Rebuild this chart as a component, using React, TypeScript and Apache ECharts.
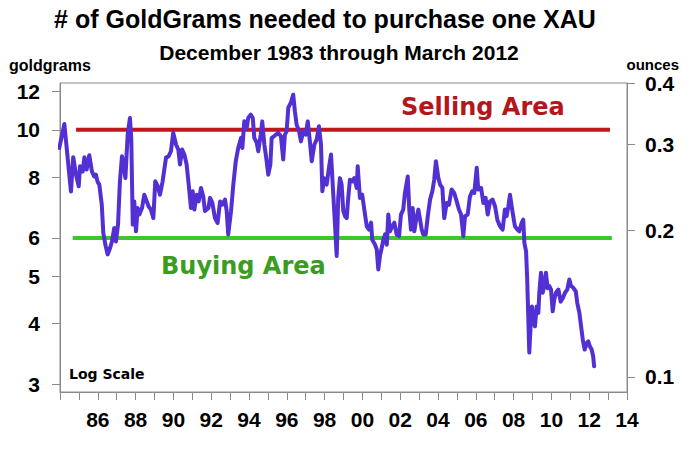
import React, { useEffect, useRef } from "react";
import * as echarts from "echarts";

// ---- text ----
const TITLE = "# of GoldGrams needed to purchase one XAU";
const SUBTITLE = "December 1983 through March 2012";
const LEFT_UNIT = "goldgrams";
const RIGHT_UNIT = "ounces";
const SELL_LABEL = "Selling Area";
const BUY_LABEL = "Buying Area";
const SCALE_NOTE = "Log Scale";

// ---- axes ----
const yearMin = 1984;
const yearMax = 2014;
const gramTicks = [3, 4, 5, 6, 8, 10, 12];
const ounceTicks = [0.1, 0.2, 0.3, 0.4];
const gramMin = 2.896;
const gramMax = 12.48;
const gramsPerOunce = 31.1035;

// ---- reference levels ----
const sellingLevel = 10;
const sellingSpan = [1984.85, 2013.1];
const buyingLevel = 6;
const buyingSpan = [1984.67, 2013.2];

// ---- goldgrams per XAU, [decimal year, goldgrams] ----
const data1980s: [number, number][] = [
  [1983.96, 9.18], [1984.23, 10.28], [1984.58, 7.47], [1984.7, 8.79], [1984.85, 8.09], [1984.99, 7.66],
  [1985.06, 8.42], [1985.2, 8.21], [1985.29, 8.79], [1985.41, 8.29], [1985.55, 8.87], [1985.69, 8.21],
  [1985.81, 8.02], [1985.9, 8.09], [1985.99, 7.82], [1986.08, 7.72], [1986.21, 7.02], [1986.29, 6.15],
  [1986.4, 5.81], [1986.52, 5.55], [1986.65, 5.72], [1986.75, 5.9], [1986.87, 6.29], [1986.96, 5.9],
  [1987.07, 6.39], [1987.17, 7.84], [1987.28, 8.83], [1987.37, 8.49], [1987.46, 7.96], [1987.58, 9.78],
  [1987.7, 10.58], [1987.77, 9.63], [1987.85, 6.39], [1987.93, 7.13], [1988.02, 6.19], [1988.11, 6.91],
  [1988.2, 6.7], [1988.34, 6.91], [1988.46, 7.36], [1988.59, 7.13], [1988.69, 6.96], [1988.81, 6.86],
  [1988.94, 6.59], [1989.04, 7.84], [1989.17, 7.66], [1989.29, 7.36], [1989.43, 7.84], [1989.61, 8.77],
  [1989.75, 8.83], [1989.87, 9.04], [1989.99, 9.86],
];
const data1990s: [number, number][] = [
  [1990.14, 9.33], [1990.26, 9.11], [1990.35, 8.49], [1990.46, 9.11], [1990.58, 8.9], [1990.7, 8.49],
  [1990.81, 7.72], [1990.93, 6.91], [1991.02, 7.48], [1991.11, 6.86], [1991.23, 7.36], [1991.34, 7.13],
  [1991.46, 7.6], [1991.58, 7.3], [1991.67, 6.81], [1991.85, 6.91], [1991.94, 7.25], [1992.06, 7.08],
  [1992.2, 6.59], [1992.34, 6.44], [1992.47, 7.13], [1992.59, 7.02], [1992.73, 7.19], [1992.82, 6.81],
  [1992.9, 6.1], [1993.05, 6.81], [1993.17, 7.72], [1993.3, 8.62], [1993.43, 9.18], [1993.58, 9.63],
  [1993.65, 9.18], [1993.75, 10.41], [1993.88, 10.09], [1993.96, 10.58], [1994.09, 10.75], [1994.2, 10.58],
  [1994.28, 9.63], [1994.41, 9.4], [1994.49, 9.04], [1994.62, 9.78], [1994.7, 10.41], [1994.81, 9.33],
  [1994.9, 8.83], [1995.02, 8.09], [1995.13, 8.49], [1995.2, 9.63], [1995.32, 9.7], [1995.43, 9.78],
  [1995.55, 9.86], [1995.69, 9.7], [1995.81, 8.69], [1995.9, 9.78], [1995.99, 9.93], [1996.08, 11.11],
  [1996.22, 11.38], [1996.34, 11.81], [1996.43, 10.91], [1996.52, 10.25], [1996.65, 9.93], [1996.75, 9.47],
  [1996.87, 9.93], [1997.0, 9.78], [1997.11, 10.41], [1997.23, 9.4], [1997.32, 8.62], [1997.46, 9.33],
  [1997.58, 9.55], [1997.7, 10.17], [1997.81, 9.33], [1997.88, 7.48], [1997.98, 7.96], [1998.11, 7.72],
  [1998.23, 8.36], [1998.34, 8.9], [1998.46, 7.36], [1998.55, 6.39], [1998.64, 5.51], [1998.72, 7.25],
  [1998.81, 7.96], [1998.9, 7.72], [1998.99, 6.81], [1999.08, 6.65], [1999.17, 6.59], [1999.25, 7.25],
  [1999.34, 7.9], [1999.47, 7.84], [1999.57, 7.96], [1999.7, 7.6], [1999.75, 8.42], [1999.87, 7.25],
  [1999.99, 7.36],
];
const data2000s: [number, number][] = [
  [2000.1, 6.86], [2000.23, 6.34], [2000.35, 6.24], [2000.46, 6.45], [2000.52, 5.95], [2000.67, 5.81],
  [2000.76, 5.68], [2000.84, 5.17], [2000.93, 5.51], [2001.02, 5.72], [2001.11, 5.95], [2001.2, 6.1],
  [2001.29, 5.81], [2001.37, 6.7], [2001.46, 6.19], [2001.58, 6.34], [2001.69, 6.45], [2001.81, 6.1],
  [2001.94, 6.05], [2002.04, 6.7], [2002.16, 6.86], [2002.25, 7.42], [2002.4, 8.02], [2002.48, 6.86],
  [2002.57, 6.24], [2002.66, 6.91], [2002.75, 6.19], [2002.84, 6.54], [2002.96, 6.86], [2003.05, 6.54],
  [2003.14, 6.24], [2003.22, 6.1], [2003.35, 6.1], [2003.46, 6.65], [2003.58, 7.19], [2003.7, 7.48],
  [2003.8, 7.9], [2003.89, 8.62], [2004.02, 7.96], [2004.11, 7.72], [2004.23, 7.6], [2004.33, 6.59],
  [2004.46, 7.08], [2004.58, 7.02], [2004.72, 7.54], [2004.86, 7.42], [2004.99, 7.13], [2005.11, 6.86],
  [2005.22, 6.7], [2005.34, 6.05], [2005.43, 6.65], [2005.57, 6.7], [2005.69, 7.3], [2005.81, 7.48],
  [2005.92, 7.42], [2006.05, 8.36], [2006.13, 7.54], [2006.28, 7.6], [2006.4, 7.08], [2006.52, 7.25],
  [2006.63, 6.7], [2006.75, 7.13], [2006.89, 7.19], [2007.02, 6.96], [2007.14, 6.54], [2007.28, 6.34],
  [2007.42, 6.24], [2007.54, 6.86], [2007.63, 6.65], [2007.72, 6.96], [2007.81, 7.36], [2007.9, 6.96],
  [2007.98, 6.65], [2008.07, 6.34], [2008.2, 6.24], [2008.3, 6.19], [2008.43, 6.45], [2008.51, 6.54],
  [2008.57, 5.86], [2008.66, 5.63], [2008.72, 4.93], [2008.78, 4.08], [2008.83, 3.49], [2008.9, 3.95],
  [2008.97, 4.34], [2009.04, 4.08], [2009.13, 3.95], [2009.22, 4.34], [2009.31, 4.21], [2009.36, 4.63],
  [2009.45, 5.09], [2009.54, 4.63], [2009.62, 4.78], [2009.71, 5.09], [2009.8, 4.73], [2009.89, 4.78],
  [2009.98, 4.7],
];
const data2010s: [number, number][] = [
  [2010.07, 4.24], [2010.15, 4.48], [2010.24, 4.63], [2010.37, 4.7], [2010.49, 4.44], [2010.6, 4.51],
  [2010.72, 4.63], [2010.84, 4.7], [2010.95, 4.93], [2011.04, 4.78], [2011.16, 4.74], [2011.29, 4.66],
  [2011.37, 4.41], [2011.48, 4.21], [2011.57, 3.95], [2011.66, 3.71], [2011.76, 3.54], [2011.87, 3.65],
  [2011.95, 3.68], [2012.04, 3.59], [2012.13, 3.54], [2012.21, 3.43], [2012.26, 3.27],
];

const lg = Math.log10;
const AXIS_GRAY = "#8a8a8a";
const LABEL_FONT = "'Liberation Sans', Arial, sans-serif";
const NOTE_FONT = "'DejaVu Sans', Verdana, sans-serif";

function buildOption() {
  const series = [...data1980s, ...data1990s, ...data2000s, ...data2010s].map(
    ([t, v]) => [t, lg(v)]
  );
  const labelStyle = {
    fontFamily: LABEL_FONT,
    fontWeight: "bold" as const,
    fontSize: 21,
    color: "#000",
  };
  return {
    animation: false,
    backgroundColor: "#ffffff",
    grid: {
      left: 60,
      right: 63,
      top: 83,
      bottom: 61,
      show: true,
      borderColor: AXIS_GRAY,
      borderWidth: 1,
      backgroundColor: "transparent",
    },
    xAxis: {
      type: "value",
      min: yearMin,
      max: yearMax,
      interval: 1,
      axisLine: { show: true, lineStyle: { color: AXIS_GRAY, width: 1 } },
      axisTick: { show: true, length: 8, lineStyle: { color: AXIS_GRAY, width: 1 } },
      splitLine: { show: false },
      axisLabel: {
        ...labelStyle,
        margin: 17,
        showMinLabel: true,
        showMaxLabel: true,
        formatter: (v: number) =>
          v % 2 === 0 && v > yearMin ? String(v % 100).padStart(2, "0") : "",
      },
    },
    yAxis: [
      {
        type: "value",
        position: "left",
        min: lg(gramMin),
        max: lg(gramMax),
        axisLine: { show: true, lineStyle: { color: AXIS_GRAY, width: 1 } },
        axisTick: {
          show: true,
          length: 8,
          customValues: gramTicks.map(lg),
          lineStyle: { color: AXIS_GRAY, width: 1 },
        },
        splitLine: { show: false },
        axisLabel: {
          ...labelStyle,
          margin: 20,
          customValues: gramTicks.map(lg),
          formatter: (v: number) => String(Math.round(Math.pow(10, v))),
        },
      },
      {
        type: "value",
        position: "right",
        min: lg(gramMin / gramsPerOunce),
        max: lg(gramMax / gramsPerOunce),
        axisLine: { show: true, lineStyle: { color: AXIS_GRAY, width: 1 } },
        axisTick: {
          show: true,
          length: 8,
          customValues: ounceTicks.map(lg),
          lineStyle: { color: AXIS_GRAY, width: 1 },
        },
        splitLine: { show: false },
        axisLabel: {
          ...labelStyle,
          margin: 18,
          customValues: ounceTicks.map(lg),
          formatter: (v: number) => Math.pow(10, v).toFixed(1),
        },
      },
    ],
    series: [
      {
        type: "line",
        yAxisIndex: 0,
        symbol: "none",
        silent: true,
        data: [
          [sellingSpan[0], lg(sellingLevel)],
          [sellingSpan[1], lg(sellingLevel)],
        ],
        lineStyle: { color: "#c2161c", width: 4 },
        z: 2,
      },
      {
        type: "line",
        yAxisIndex: 0,
        symbol: "none",
        silent: true,
        data: [
          [buyingSpan[0], lg(buyingLevel)],
          [buyingSpan[1], lg(buyingLevel)],
        ],
        lineStyle: { color: "#3ec62c", width: 4 },
        z: 2,
      },
      {
        type: "line",
        yAxisIndex: 0,
        symbol: "none",
        silent: true,
        data: series,
        lineStyle: { color: "#5230d4", width: 4, join: "round", cap: "round" },
        z: 3,
      },
    ],
    graphic: [
      {
        type: "text",
        x: 325,
        y: 19,
        style: {
          text: TITLE,
          fontFamily: LABEL_FONT,
          fontWeight: "bold",
          fontSize: 25,
          fill: "#000",
          textAlign: "center",
          textVerticalAlign: "middle",
        },
      },
      {
        type: "text",
        x: 339,
        y: 52,
        style: {
          text: SUBTITLE,
          fontFamily: LABEL_FONT,
          fontWeight: "bold",
          fontSize: 21,
          fill: "#000",
          textAlign: "center",
          textVerticalAlign: "middle",
        },
      },
      {
        type: "text",
        x: 9,
        y: 65,
        style: {
          text: LEFT_UNIT,
          fontFamily: LABEL_FONT,
          fontWeight: "bold",
          fontSize: 16,
          fill: "#000",
          textAlign: "left",
          textVerticalAlign: "middle",
        },
      },
      {
        type: "text",
        x: 679,
        y: 64,
        style: {
          text: RIGHT_UNIT,
          fontFamily: LABEL_FONT,
          fontWeight: "bold",
          fontSize: 15,
          fill: "#000",
          textAlign: "right",
          textVerticalAlign: "middle",
        },
      },
      {
        type: "text",
        x: 401,
        y: 107,
        style: {
          text: SELL_LABEL,
          fontFamily: NOTE_FONT,
          fontWeight: "bold",
          fontSize: 24,
          fill: "#b3171c",
          textAlign: "left",
          textVerticalAlign: "middle",
        },
      },
      {
        type: "text",
        x: 161,
        y: 266,
        style: {
          text: BUY_LABEL,
          fontFamily: NOTE_FONT,
          fontWeight: "bold",
          fontSize: 24,
          fill: "#3b9d1f",
          textAlign: "left",
          textVerticalAlign: "middle",
        },
      },
      {
        type: "text",
        x: 69,
        y: 374,
        style: {
          text: SCALE_NOTE,
          fontFamily: NOTE_FONT,
          fontWeight: "bold",
          fontSize: 14,
          fill: "#000",
          textAlign: "left",
          textVerticalAlign: "middle",
        },
      },
    ],
  };
}

export default function App() {
  const ref = useRef<HTMLDivElement>(null);
  useEffect(() => {
    document.body.style.margin = "0";
    const chart = echarts.init(ref.current!, null, { renderer: "svg" });
    chart.setOption(buildOption() as any);
    return () => chart.dispose();
  }, []);
  return <div ref={ref} style={{ width: 690, height: 453, background: "#fff" }} />;
}
